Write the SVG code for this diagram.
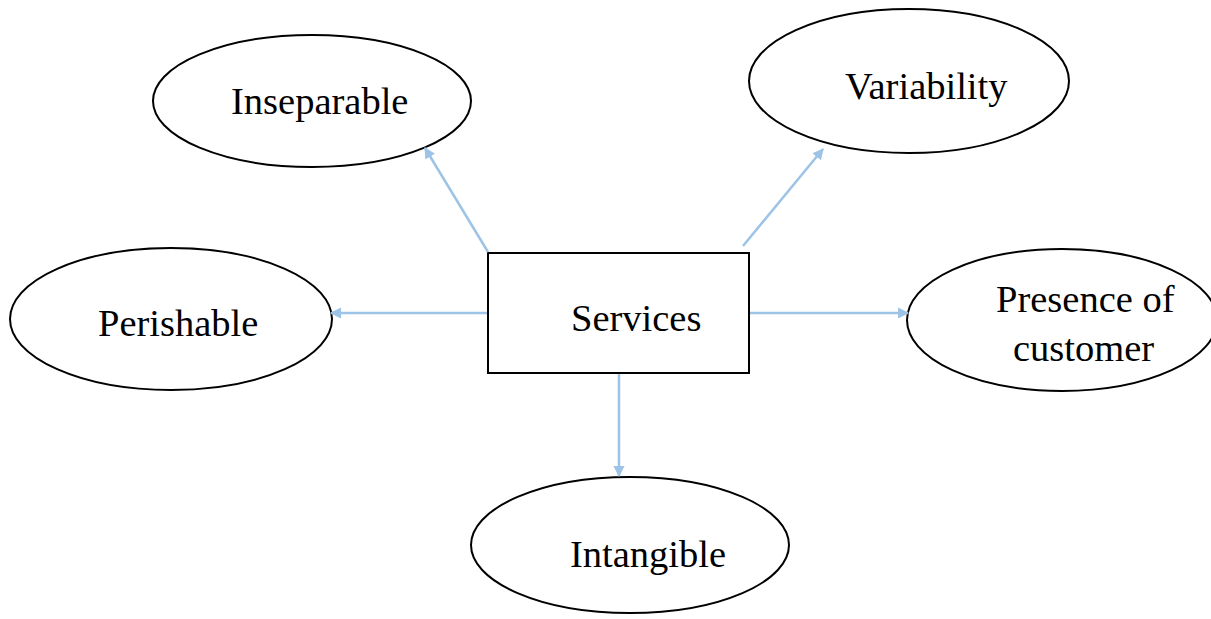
<svg xmlns="http://www.w3.org/2000/svg" width="1211" height="619" viewBox="0 0 1211 619">
<style>
.n{fill:#fff;stroke:#000;stroke-width:2}
.t{font-family:'Liberation Serif','Times New Roman',serif;font-size:38.5px;fill:#000}
.c{stroke:#9dc3e6;stroke-width:2.5;fill:none;marker-end:url(#a)}
</style>
<defs>
<marker id="a" viewBox="0 0 10 10" refX="9" refY="5" markerWidth="4.5" markerHeight="4.5" orient="auto" markerUnits="strokeWidth">
<path d="M0,0 L10,5 L0,10 z" fill="#9dc3e6"/>
</marker>
</defs>
<rect width="1211" height="619" fill="#fff"/>
<g id="inseparable"><ellipse class="n" cx="312" cy="101" rx="159" ry="66"/><text class="t" x="231" y="114">Inseparable</text></g>
<g id="variability"><ellipse class="n" cx="909" cy="81" rx="160" ry="72"/><text class="t" x="845" y="99">Variability</text></g>
<g id="perishable"><ellipse class="n" cx="171" cy="319" rx="161" ry="71"/><text class="t" x="98" y="336">Perishable</text></g>
<g id="presence"><ellipse class="n" cx="1062" cy="320" rx="155" ry="71"/><text class="t" x="996" y="312">Presence of</text><text class="t" x="1013" y="361">customer</text></g>
<g id="intangible"><ellipse class="n" cx="630" cy="545" rx="159" ry="68"/><text class="t" x="570" y="567">Intangible</text></g>
<g id="services"><rect class="n" x="488" y="253" width="261" height="120"/><text class="t" x="571" y="331">Services</text></g>
<g id="connectors">
<line class="c" x1="488" y1="252" x2="425" y2="148"/>
<line class="c" x1="743" y1="246" x2="823" y2="149"/>
<line class="c" x1="487" y1="313" x2="331" y2="313"/>
<line class="c" x1="750" y1="313" x2="908" y2="313"/>
<line class="c" x1="619" y1="374" x2="619" y2="476"/>
</g>
</svg>
